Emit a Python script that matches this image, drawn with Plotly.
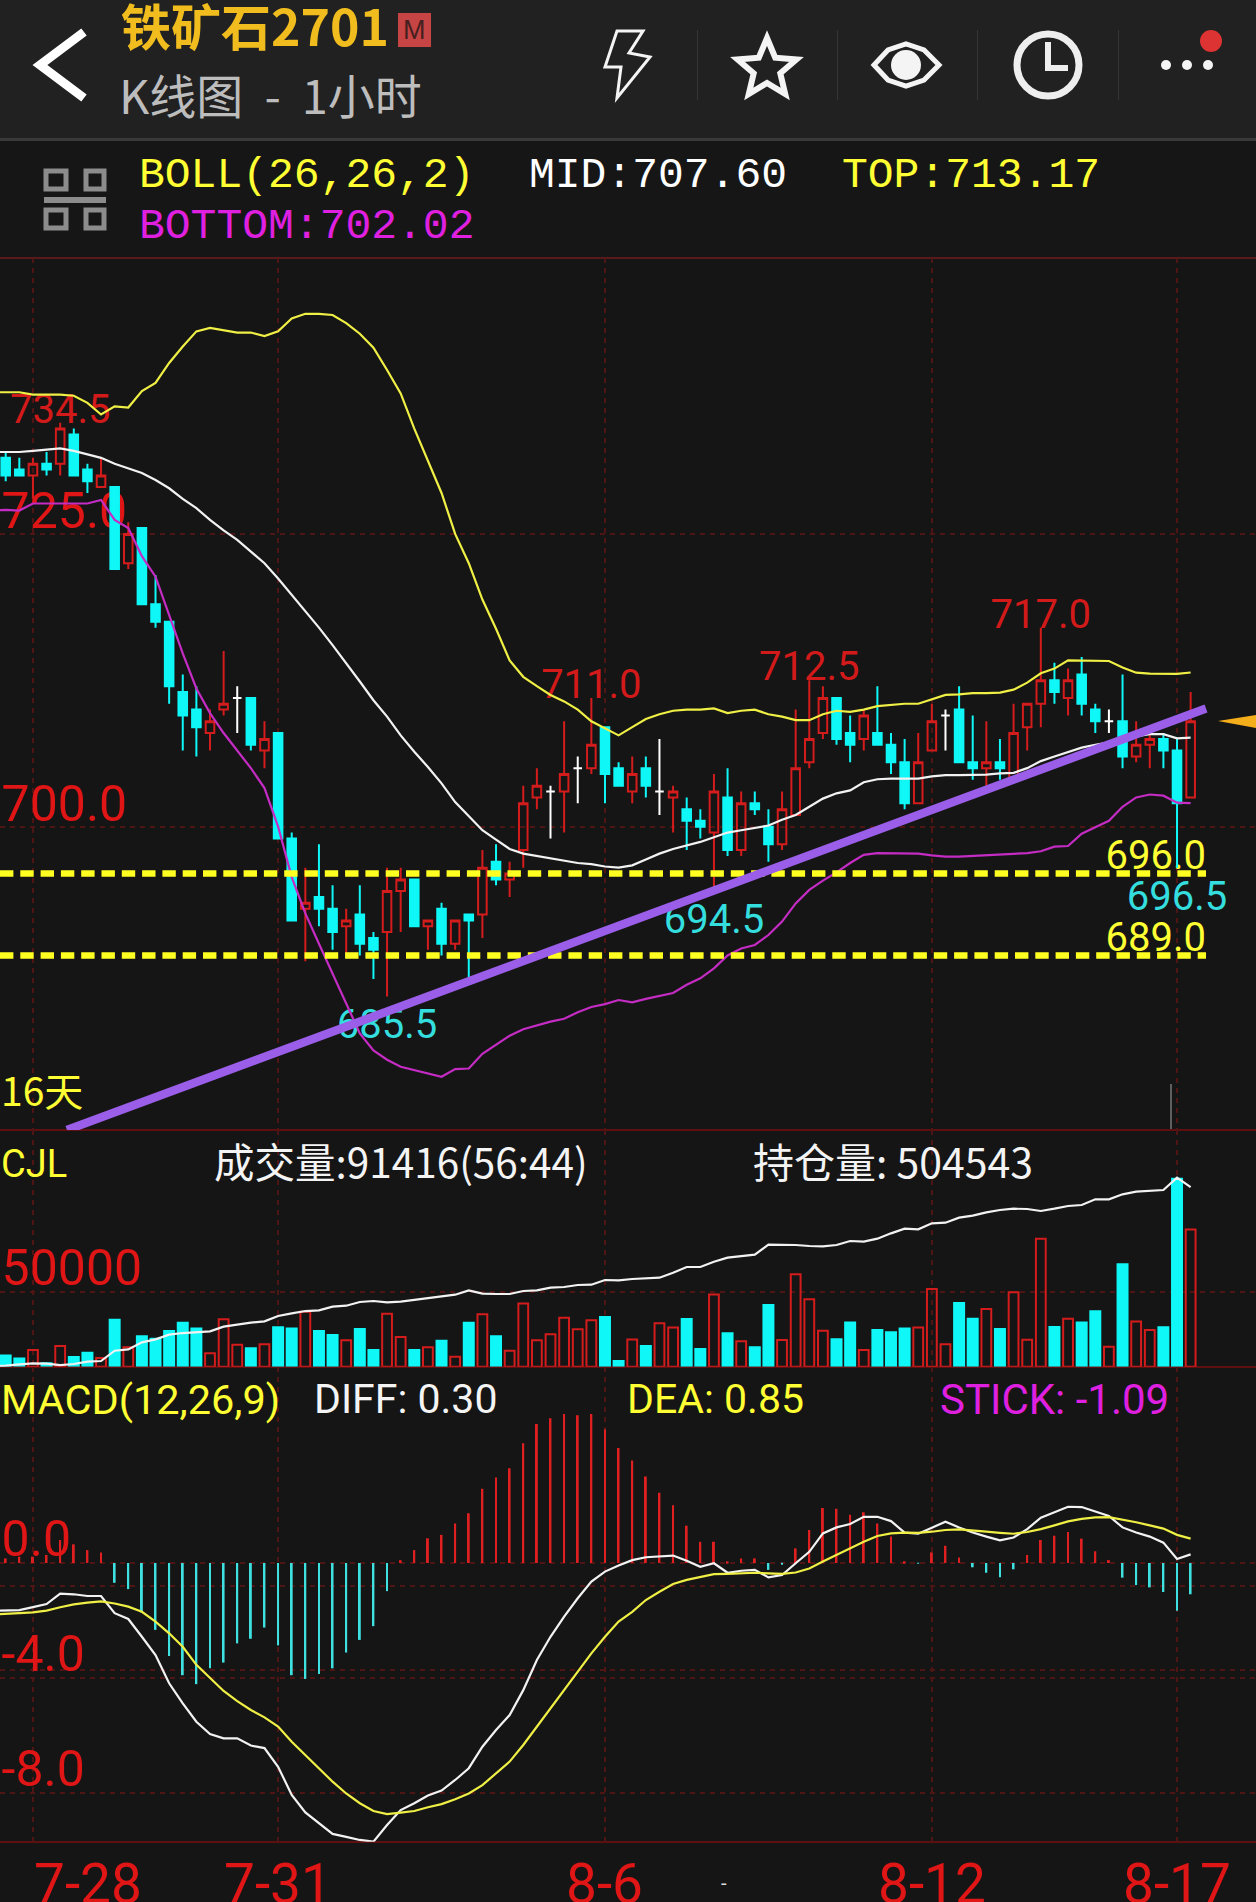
import math
import plotly.graph_objects as go

W, H = 1256, 1902

# ---------- data ----------
opens = [731.5,730.5,730,731,731,733.5,730.5,729,729,722.5,725.5,719,717.5,711.5,710,708,710,711,711,706.5,708,699,693,694,693,691.5,692.5,690.5,691,694.5,695.5,691.5,693,690,692.5,692.5,697,695.5,698,702.5,703,703,705,705,708.5,705,703,705,703,702.5,701.5,700.5,699.5,702.5,698,702,700,698.5,701,705.5,708,711,708,707.5,708,707,705.5,702,706.5,709.5,710,705.5,705,705.5,704,708.5,710.5,712.5,711,713,710,709,709,706,707,707.5,706.5,702.5]
highs = [732,731.5,731.5,732,734.5,734,731,731.5,729,726,725.5,721.5,717.5,713,712,710,715,712,711,709,708,699.5,696.5,698.5,695,693,695,691,696.5,696.5,695.5,692,693.5,692,692.5,698,698.5,697,703.5,705,703.5,709,706,711,708.5,705.5,706,706,707.5,703.5,702.5,701.5,704.5,705,703,703,701.5,703,710,712.5,712,711,709.5,710,712,708,707.5,708,710.5,710,712,709.5,709,707.5,710.5,710.5,717,714,713.5,714.5,710.5,710,713,709,708,708,707.5,711.5]
lows = [729.5,730,728,730,730,730,728.5,729,722,722,719,717,710.5,706.5,706,706.5,709.5,708,706.5,705,699,692,688.5,691.5,689.5,689,689,687,685.5,691,691.5,689.5,689,689.5,687,690.5,695,694,696.5,701.5,699,699.5,702,704.5,702,703.5,702,702.5,701,699.5,698,699,694.5,697.5,697.5,701,697,698,701,705,707.5,707,705.5,706.5,707,704.5,701.5,702,706.5,706.5,705.5,704,703.5,704,704,706.5,708.5,710.5,709.5,709.5,708,708,705,705.5,705,705,696.5,702.5]
closes = [730,730,731,730.5,734,730,729.5,730,722,725,719,717.5,712,709.5,708.5,709,710.5,711,707,707.5,699,692,693.5,693,691,692,690,689.5,694.5,695.5,691.5,692,690,692,692,696.5,695.5,696,702,703.5,703,704.5,705,707,704.5,703.5,704.5,703.5,703,703,700.5,700,703,698,702,701.5,698.5,701.5,705,707.5,711,707.5,707,709.5,707,705.5,702,705.5,709,709.5,705.5,705,705.5,705,708,710.5,712.5,711.5,712.5,710.5,709,709,706,707,707.5,706.5,702,709]

boll_top = [737.1,737.1,736.9,736.9,736.9,736.8,736.2,735.2,735.9,735.8,737.2,737.9,739.6,741.0,742.3,742.6,742.4,742.2,742.2,741.9,742.3,743.4,743.8,743.8,743.7,743.0,742.1,740.9,739.0,737.0,734.0,731.3,728.5,725.0,722.5,719.4,716.9,714.2,712.8,712.0,711.25,710.7,710.0,709.0,708.4,707.8,708.5,709.2,709.6,709.9,710.0,710.0,710.1,709.7,709.9,710.0,709.6,709.4,709.1,709.1,709.6,709.9,709.8,710.0,710.3,710.4,710.5,710.5,710.9,711.25,711.3,711.4,711.4,711.45,711.7,712.3,713.1,713.5,714.2,714.2,714.2,714.15,713.6,713.15,713.07,713.05,713.05,713.17]
boll_mid = [732.0,732.0,732.1,732.2,732.3,732.1,731.8,731.5,731.0,730.6,730.2,729.6,728.9,728.0,727.2,726.2,725.3,724.5,723.5,722.5,721.2,719.8,718.4,717.0,715.5,714.0,712.4,710.8,709.4,707.8,706.4,705.1,703.7,702.1,700.9,699.7,698.9,698.1,697.7,697.5,697.3,697.1,696.9,696.8,696.6,696.5,696.7,697.2,697.7,698.1,698.4,698.7,699.1,699.5,699.7,699.9,700.1,700.6,701.0,701.7,702.4,702.85,703.1,703.8,704.05,704.1,704.1,704.1,704.3,704.4,704.4,704.4,704.45,704.55,704.6,705.0,705.6,706.0,706.4,706.75,707.0,707.2,707.55,707.75,707.9,707.9,707.55,707.6]
boll_bot = [727.05,727.0,727.6,727.6,727.6,727.6,727.6,727.9,726.2,725.5,723.1,721.35,718.1,714.8,711.8,709.7,708.0,706.55,705.0,703.3,700.0,695.7,692.6,690.0,687.5,684.9,682.35,680.9,680.1,679.5,679.2,678.9,678.65,679.3,679.35,680.6,681.35,682.15,682.7,683.05,683.35,683.6,684.15,684.6,684.85,685.2,685.0,685.3,685.55,685.8,686.5,687.05,687.9,689.0,689.6,689.9,690.75,691.9,693.45,694.6,695.4,696.1,696.9,697.6,697.75,697.75,697.75,697.7,697.55,697.45,697.45,697.5,697.55,697.6,697.7,697.75,697.9,698.3,698.35,699.4,699.95,700.5,701.7,702.5,702.75,702.65,702.05,702.02]

volume = [8200,6200,11100,2900,13800,7100,10000,5800,32000,12900,20900,19300,24400,30000,26200,8900,31600,14700,12900,14900,26900,26200,36700,24400,21800,17600,25800,11800,35300,19800,11800,12900,18000,6700,30000,34900,20900,10700,42200,17600,21600,32700,24900,30900,33800,4400,18200,14400,28900,26200,32400,12400,48200,22900,16900,13600,41800,17800,61600,44900,24000,18900,30200,11100,25100,23600,26200,26200,51800,14900,43100,32700,38400,25800,49600,18000,85300,27100,32000,30200,37600,13300,68900,30200,24400,26900,126000,91416]
open_interest = [451000,451400,451700,451600,451200,451500,452200,452400,455500,455900,458000,458900,460300,460800,461100,461300,462700,463400,463900,464300,465900,466700,467400,467600,468700,469000,470100,470400,470000,470200,470700,471200,471700,472300,473600,472600,472500,472500,473400,473600,474400,474600,475200,475300,476700,476600,477000,477200,477400,478900,480600,480600,482200,483400,483900,484300,487300,487300,487200,486900,486800,487200,488400,488200,489100,490700,492100,491900,493700,493900,495400,496000,497000,497700,498100,498000,497400,498100,498900,499200,500900,500900,502400,503200,503500,503700,507400,504543]

macd_stick = [.16,.22,.22,.28,.80,.65,.45,.37,-.69,-.91,-1.72,-2.33,-3.24,-3.91,-4.22,-3.67,-3.47,-2.80,-2.64,-2.25,-2.87,-3.91,-4.04,-3.87,-3.67,-3.12,-2.68,-2.20,-.98,.10,.45,.86,.98,1.38,1.73,2.59,2.98,3.30,4.17,4.84,5.04,5.19,5.15,5.19,4.66,4.01,3.57,3.01,2.45,2.01,1.30,.74,.74,.06,.16,.16,-.24,-.06,.51,1.15,1.92,1.89,1.68,1.77,1.38,.92,.06,-.02,.37,.60,.19,-.15,-.34,-.50,-.22,.28,.80,.95,1.08,.85,.41,.10,-.51,-.77,-.85,-1.01,-1.66,-1.09]
macd_diff = [-1.66,-1.64,-1.54,-1.43,-1.07,-1.09,-1.15,-1.15,-1.75,-1.95,-2.57,-3.21,-4.19,-4.89,-5.53,-5.96,-6.11,-6.11,-6.36,-6.45,-7.10,-8.08,-8.69,-9.07,-9.44,-9.54,-9.65,-9.71,-9.13,-8.61,-8.37,-8.10,-7.93,-7.56,-7.15,-6.40,-5.82,-5.30,-4.43,-3.38,-2.57,-1.87,-1.23,-.65,-.30,-.09,.10,.20,.22,.26,.08,-.13,-.01,-.34,-.27,-.24,-.50,-.42,-.01,.39,1.03,1.24,1.36,1.61,1.61,1.46,1.06,1.02,1.23,1.44,1.24,1.06,.92,.79,.89,1.18,1.58,1.77,1.96,1.95,1.79,1.64,1.24,1.06,.92,.71,.14,.30]
macd_dea = [-1.78,-1.75,-1.72,-1.66,-1.54,-1.44,-1.38,-1.34,-1.41,-1.52,-1.70,-2.04,-2.45,-2.92,-3.55,-4.00,-4.46,-4.81,-5.12,-5.38,-5.70,-6.23,-6.69,-7.15,-7.62,-8.03,-8.37,-8.64,-8.75,-8.70,-8.64,-8.51,-8.40,-8.23,-8.03,-7.74,-7.33,-6.92,-6.34,-5.70,-5.06,-4.43,-3.79,-3.15,-2.57,-2.04,-1.70,-1.29,-1.00,-.73,-.59,-.48,-.39,-.38,-.35,-.34,-.36,-.38,-.33,-.19,.05,.28,.51,.74,.94,1.03,1.06,1.05,1.09,1.15,1.17,1.14,1.09,1.05,1.02,1.08,1.18,1.31,1.45,1.54,1.59,1.60,1.52,1.42,1.31,1.20,.98,.85]

# the bar just left of the visible window (only its lines reach the screen)
prior_top, prior_mid, prior_bot = 737.1, 732.0, 727.0
prior_oi, prior_diff, prior_dea = 450900, -1.67, -1.79

bars = list(range(88))
date_ticks = [2, 20, 44, 68, 86]
date_labels = ["7-28", "7-31", "8-6", "8-12", "8-17"]
price_ticks = [725, 700]
price_labels = ["725.0", "700.0"]
vol_ticks = [50000]
vol_labels = ["50000"]
macd_grid = [0, -0.79, -3.73, -4, -8]
macd_ticks = [0, -4, -8]
macd_labels = ["0.0", "-4.0", "-8.0"]
support_levels = [696.0, 689.0]
high_marks = [4, 43, 59, 76]
low_marks = [28, 52, 86]
trend_x = [4.5, 88.13]
trend_y = [674.1, 710.1]

for s in (opens, highs, lows, closes, boll_top, boll_mid, boll_bot, volume, open_interest, macd_stick, macd_diff, macd_dea):
    assert len(s) == 88, len(s)

# ---------- colours ----------
BG = "#151515"; BAR = "#212121"; GRID = "#4f1515"; SOLID = "#5e1010"
RED = "#d41c1c"; TXTRED = "#e01515"; CYAN = "#0ff7f7"; CYANTXT = "#35dede"
YEL = "#ffff33"; LYEL = "#efef45"; MAG = "#c42cc4"; TMAG = "#e020e0"; WHITE = "#f2f2f2"; PURPLE = "#9a5ee8"
NUM = "Roboto"; CJK = "Noto Sans CJK SC"; MONO = "Liberation Mono"

fx = lambda px: px / W
fy = lambda py: 1 - py / H
X0, X1 = (0 - 5.7) / 13.62, (W - 5.7) / 13.62
PX_PRICE, PX_VOL, PX_MACD = 11.71, 1.5e-3, 28.7   # pixels per unit on each value axis

fig = go.Figure()

def text_trace(x, y, text, pos, size, color, axis, drop, family=NUM):
    # drop: pixels / pixels-per-unit, moves a label down off its anchor value
    fig.add_trace(go.Scatter(x=x, y=[v - drop for v in y], text=text, mode="text", textposition=pos,
                             textfont=dict(size=size, color=color, family=family),
                             hoverinfo="skip", yaxis=axis, cliponaxis=False))

# labels under the candles (base axis)
lx = -0.3
text_trace([lx]*2, price_ticks, price_labels, "top right", 50, TXTRED, "y", 7/PX_PRICE)
text_trace(high_marks, [highs[i] for i in high_marks], [f"{highs[i]:.1f}" for i in high_marks], "top center", 40, "#d21a1a", "y", 10/PX_PRICE)
text_trace(low_marks, [lows[i] for i in low_marks], [f"{lows[i]:.1f}" for i in low_marks], "bottom center", 40, CYANTXT, "y", 12/PX_PRICE)
text_trace([trend_x[1]]*2, support_levels, [f"{v:.1f}" for v in support_levels], "top left", 40, YEL, "y", 5/PX_PRICE)

# candles
full = [i for i in bars if opens[i] != closes[i]]
doji = [i for i in bars if opens[i] == closes[i]]
pick = lambda s, idx: [s[i] for i in idx]
fig.add_trace(go.Candlestick(
    x=full, open=pick(opens, full), high=pick(highs, full), low=pick(lows, full), close=pick(closes, full),
    increasing=dict(line=dict(color=RED, width=2), fillcolor="rgba(0,0,0,0)"),
    decreasing=dict(line=dict(color=CYAN, width=2), fillcolor=CYAN),
    whiskerwidth=0, yaxis="y5", hoverinfo="skip"))
fig.add_trace(go.Candlestick(
    x=doji, open=pick(opens, doji), high=pick(highs, doji), low=pick(lows, doji), close=pick(closes, doji),
    increasing=dict(line=dict(color="#ffffff", width=2), fillcolor="#ffffff"),
    decreasing=dict(line=dict(color="#ffffff", width=2), fillcolor="#ffffff"),
    whiskerwidth=0, yaxis="y5", hoverinfo="skip"))

# BOLL
xline = [-1] + bars
for s, p, c in ((boll_top, prior_top, LYEL), (boll_mid, prior_mid, WHITE), (boll_bot, prior_bot, MAG)):
    fig.add_trace(go.Scatter(x=xline, y=[p] + s, mode="lines", line=dict(color=c, width=2.2), yaxis="y5", hoverinfo="skip"))

# support lines and trend line
for v in support_levels:
    fig.add_trace(go.Scatter(x=[X0, trend_x[1]], y=[v, v], mode="lines", yaxis="y5", hoverinfo="skip",
                             line=dict(color="#ffff22", width=6.5, dash="13.4px,6.9px")))
fig.add_trace(go.Scatter(x=trend_x, y=trend_y, mode="lines", yaxis="y5", hoverinfo="skip",
                         line=dict(color=PURPLE, width=8.5)))

# volume
up = [i for i in bars if closes[i] >= opens[i]]
dn = [i for i in bars if closes[i] < opens[i]]
fig.add_trace(go.Bar(x=dn, y=pick(volume, dn), width=0.88, marker=dict(color=CYAN, line=dict(width=0)), yaxis="y2", hoverinfo="skip"))
fig.add_trace(go.Bar(x=up, y=pick(volume, up), width=0.72, marker=dict(color="rgba(0,0,0,0)", line=dict(color=RED, width=2)), yaxis="y2", hoverinfo="skip"))
fig.add_trace(go.Scatter(x=xline, y=[prior_oi] + open_interest, mode="lines", line=dict(color=WHITE, width=2.2), yaxis="y3", hoverinfo="skip"))
text_trace([lx], vol_ticks, vol_labels, "top right", 50, TXTRED, "y2", 6/PX_VOL)

# MACD
fig.add_trace(go.Bar(x=bars, y=macd_stick, width=0.14, yaxis="y4", hoverinfo="skip",
                     marker=dict(color=["#e02020" if v >= 0 else "#3ee0e0" for v in macd_stick], line=dict(width=0))))
fig.add_trace(go.Scatter(x=xline, y=[prior_diff] + macd_diff, mode="lines", line=dict(color=WHITE, width=2.2), yaxis="y4", hoverinfo="skip", cliponaxis=False))
fig.add_trace(go.Scatter(x=xline, y=[prior_dea] + macd_dea, mode="lines", line=dict(color=LYEL, width=2.2), yaxis="y4", hoverinfo="skip"))
text_trace([lx]*3, macd_ticks, macd_labels, "top right", 50, TXTRED, "y4", 6/PX_MACD)

# ---------- header furniture ----------
shapes = []
def rect(x0, y0, x1, y1, fill, line=None, lw=0, layer="below"):
    shapes.append(dict(type="rect", xref="paper", yref="paper", x0=fx(x0), x1=fx(x1), y0=fy(y0), y1=fy(y1),
                       fillcolor=fill, line=dict(color=line or fill, width=lw), layer=layer))
def path(points, color, lw=0, fill=None, close=False):
    d = "M " + " L ".join(f"{fx(a):.5f},{fy(b):.5f}" for a, b in points) + (" Z" if close else "")
    shapes.append(dict(type="path", xref="paper", yref="paper", path=d, fillcolor=fill or "rgba(0,0,0,0)",
                       line=dict(color=color, width=lw), layer="above"))
def circle(cx, cy, r, color, lw=0, fill=None):
    shapes.append(dict(type="circle", xref="paper", yref="paper", x0=fx(cx-r), x1=fx(cx+r), y0=fy(cy+r), y1=fy(cy-r),
                       fillcolor=fill or "rgba(0,0,0,0)", line=dict(color=color, width=lw), layer="above"))

rect(0, 0, W, 138, BAR)
rect(0, 138, W, 141, "#3a3a3a")
rect(0, 141, W, 257, "#161616")
rect(0, 257, W, 259, "#5a1a1a")
for yy in (1130, 1367, 1842):
    rect(0, yy-1, W, yy+1, SOLID)
rect(1170, 1084, 1172, 1129, "#5f5f5f")

path([(84,32),(40,65),(84,98)], "#ffffff", 9)
path([(617,31),(643,31),(629,53),(650,57),(617,98),(621,67),(605,67)], "#f4f4f4", 3, close=True)
star = []
for k in range(10):
    r = 31 if k % 2 == 0 else 14
    a = -math.pi/2 + k*math.pi/5
    star.append((767 + r*math.cos(a), 69 + r*math.sin(a)))
path(star, "#f4f4f4", 6, close=True)
eye = [(874,65),(888,50),(906,44),(924,50),(939,65),(924,80),(906,86),(888,80)]
path(eye, "#f4f4f4", 5, close=True)
circle(906, 65, 15, "#f4f4f4", 0, "#f4f4f4")
circle(1048, 65, 31, "#eeeeee", 7)
path([(1048,42),(1048,68),(1068,68)], "#eeeeee", 6)
for cx in (1166, 1187, 1208):
    circle(cx, 65, 5, "#f4f4f4", 0, "#f4f4f4")
circle(1211, 41, 11, "#dd3333", 0, "#dd3333")
for sx in (697, 837, 977, 1118):
    rect(sx, 30, sx+1, 100, "#353535")
rect(398, 13, 431, 47, "#c64444")

# QR-like icon
ICON = "#8c8c8c"
for a, b, c, d in ((46,171,66,189),(86,171,104,189),(46,210,66,228),(86,210,104,228)):
    path([(a,b),(c,b),(c,d),(a,d)], ICON, 5, close=True)
rect(44, 197, 106, 203, ICON, layer="above")

# current-price arrow
path([(1218,721),(1256,715),(1256,728)], "#f5ae1b", 0, "#f5ae1b", True)

# ---------- annotations ----------
ann = []
def label(text, px, py, size, color, family=CJK, anchor="left", bold=False):
    if bold:
        text = f"<b>{text}</b>"
    ann.append(dict(text=text, xref="paper", yref="paper", x=fx(px), y=fy(py), xanchor=anchor, yanchor="middle",
                    showarrow=False, font=dict(size=size, color=color, family=family), borderpad=0))

label("铁矿石2701", 120, 24, 50, "#f0bc1e", bold=True)
label("M", 414.5, 30, 27, "#46201f", "Liberation Sans", "center")
label("K线图 \u00a0- \u00a01小时", 118, 93, 47, "#bdbdbd")
label("BOLL(26,26,2)", 138, 176, 43, YEL, MONO)
label("MID:707.60", 528, 176, 43, "#ffffff", MONO)
label("TOP:713.17", 841, 176, 43, YEL, MONO)
label("BOTTOM:702.02", 138, 226, 43, TMAG, MONO)
label("16天", 0, 1089, 39, YEL)
label("CJL", 0, 1164, 38, YEL, NUM)
label("成交量:91416(56:44)", 213, 1160, 40.5, "#f4f4f4")
label("持仓量: 504543", 752, 1160, 41, "#f4f4f4")
label("MACD(12,26,9)", 0, 1399, 41.5, YEL, NUM)
label("DIFF: 0.30", 313, 1399, 41, "#f4f4f4", NUM)
label("DEA: 0.85", 626, 1399, 41, YEL, NUM)
label("STICK: -1.09", 939, 1399, 42, TMAG, NUM)
for i, t in zip(date_ticks, date_labels):
    ann.append(dict(text=t, xref="x", yref="paper", x=i, y=fy(1884), xanchor="left" if i == date_ticks[0] else "center",
                    yanchor="middle", showarrow=False, font=dict(size=55, color=TXTRED, family=NUM), borderpad=0))
label("-", 724, 1883, 20, "#dddddd", NUM, "center")

# ---------- axes ----------
def yax(py0, py1, rng, **kw):
    d = dict(domain=[fy(py1), fy(py0)], range=rng, showgrid=False, zeroline=False, showticklabels=False,
             ticks="", showline=False, fixedrange=True)
    d.update(kw)
    return d

grid = dict(showgrid=True, gridcolor=GRID, gridwidth=2, griddash="5px,5px", tickmode="array")
main_rng = [700 + (826.7-1130)/11.71, 700 + (826.7-258)/11.71]
macd_rng = [(1563-1841.7)/28.7, (1563-1366.7)/28.7]

fig.update_layout(
    width=W, height=H, margin=dict(l=0, r=0, t=0, b=0, pad=0), autosize=False,
    paper_bgcolor=BG, plot_bgcolor=BG, showlegend=False, hovermode=False,
    barmode="overlay", boxmode="overlay", boxgap=0.1,
    xaxis=dict(domain=[0, 1], range=[X0, X1], anchor="y4", showticklabels=False, ticks="", zeroline=False,
               rangeslider=dict(visible=False), fixedrange=True, tickvals=date_ticks, **grid),
    yaxis=yax(258, 1130, main_rng, tickvals=price_ticks, **grid),
    yaxis5=yax(258, 1130, main_rng, overlaying="y"),
    yaxis2=yax(1130, 1366.7, [0, 157800], tickvals=vol_ticks, **grid),
    yaxis3=yax(1130, 1366.7, [450700, 521700], overlaying="y2"),
    yaxis4=yax(1366.7, 1841.7, macd_rng, tickvals=macd_grid, **grid),
    shapes=shapes, annotations=ann,
)

fig.write_html("out.html", config={"displayModeBar": False},
               post_script="document.body.style.margin='0';document.body.style.background='#151515';document.documentElement.style.overflow='hidden';")
